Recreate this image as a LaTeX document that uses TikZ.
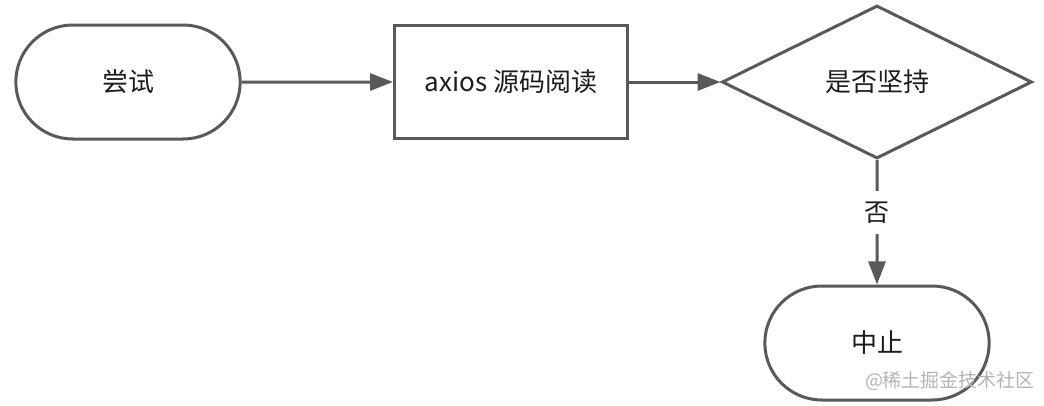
\documentclass[tikz,border=0pt]{standalone}
\usepackage{fontspec}
\setmainfont{Noto Sans CJK SC}
\usetikzlibrary{shapes.misc,shapes.geometric,arrows.meta}

\definecolor{lineGray}{HTML}{595959}
\definecolor{textBlack}{HTML}{1C1C1C}
\definecolor{markGray}{HTML}{B4B4B4}

\tikzset{
  terminal/.style={rounded rectangle, rounded rectangle arc length=180,
    draw=lineGray, line width=3pt, minimum width=231pt, minimum height=114pt,
    text=textBlack, font=\fontsize{26}{30}\selectfont},
  process/.style={rectangle, draw=lineGray, line width=3pt,
    minimum width=233pt, minimum height=113pt,
    text=textBlack, font=\fontsize{26}{30}\selectfont},
  decision/.style={diamond, draw=lineGray, line width=3pt, inner sep=0pt,
    minimum width=310pt, minimum height=153pt,
    text=textBlack, font=\fontsize{26}{30}\selectfont},
  flow/.style={draw=lineGray, line width=3pt,
    -{Triangle[length=23pt,width=17pt]}}
}

\begin{document}
\begin{tikzpicture}[x=1pt,y=-1pt]
\useasboundingbox (0,0) rectangle (1044,405);

% -------------------------------------------------
% Noeuds
% -------------------------------------------------
\node[terminal] (essai) at (128,82) {尝试};
\node[process]  (lecture) at (511,82) {axios 源码阅读};
\node[decision] (choix) at (877,82) {是否坚持};
\node[terminal] (arret) at (877,343) {中止};

% -------------------------------------------------
% Fleches
% -------------------------------------------------
\draw[flow] (essai) -- (lecture);
\draw[flow] (lecture) -- (choix);
\draw[flow] (choix) -- node[pos=0.42, fill=white, inner xsep=6pt, inner ysep=11pt,
  text=textBlack, font=\fontsize{25}{29}\selectfont] (non) {否} (arret);

% -------------------------------------------------
% Filigrane
% -------------------------------------------------
\node[text=markGray, font=\fontsize{19}{22}\selectfont] (marque) at (950,381) {@稀土掘金技术社区};

\end{tikzpicture}
\end{document}
